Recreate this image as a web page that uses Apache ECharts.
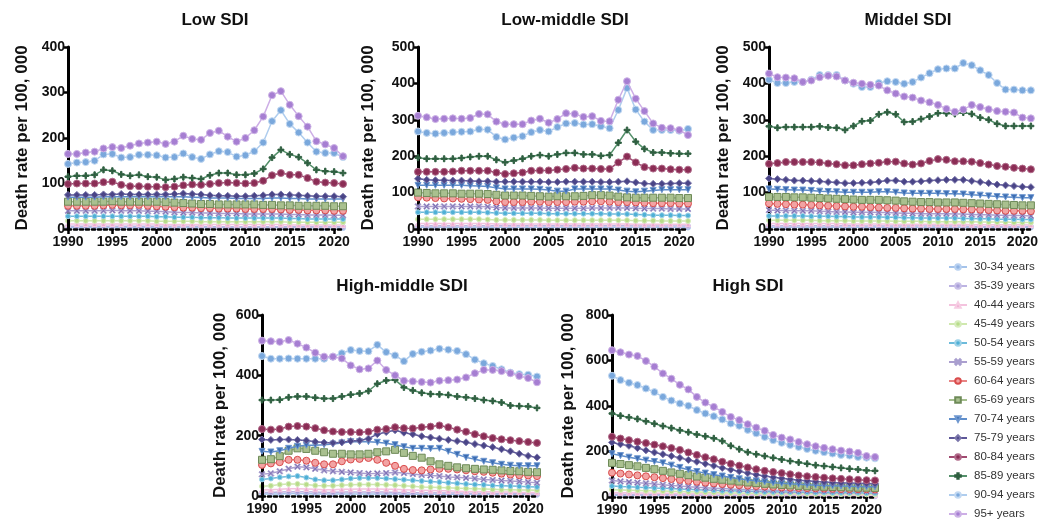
<!DOCTYPE html>
<html><head><meta charset="utf-8">
<script src="https://cdn.jsdelivr.net/npm/echarts@6/dist/echarts.min.js"></script>
<style>html,body{margin:0;padding:0;background:#fff}#c{width:1041px;height:524px}</style>
</head><body><div id="c"></div>
<script>
// ---------- DATA ----------
const years = ['1990','1991','1992','1993','1994','1995','1996','1997','1998','1999','2000','2001','2002','2003','2004','2005','2006','2007','2008','2009','2010','2011','2012','2013','2014','2015','2016','2017','2018','2019','2020','2021'];
const ageGroups = ['30-34 years','35-39 years','40-44 years','45-49 years','50-54 years','55-59 years','60-64 years','65-69 years','70-74 years','75-79 years','80-84 years','85-89 years','90-94 years','95+ years'];
const panelTitles = ['Low SDI','Low-middle SDI','Middel SDI','High-middle SDI','High SDI'];
const yAxisMax = [400, 500, 500, 600, 800];
const yAxisStep = [100, 100, 100, 200, 200];
const yAxisName = 'Death rate per 100, 000';

// rows follow ageGroups order
const lowSDI = [
 [3,3,3,3,3,3,3,3,3,3,3,3,3,3,3,3,3,3,3,3,3,3,3,3,3,3,2,2,2,2,2,2],
 [6,6,6,6,6,6,6,6,6,6,6,6,6,6,6,6,5,5,5,5,5,5,5,5,5,5,5,5,5,5,5,5],
 [11,11,11,11,11,11,11,11,11,11,11,10,10,10,10,10,10,10,10,10,10,10,10,10,10,9,9,9,9,9,9,9],
 [18,18,18,18,18,18,18,18,18,18,17,17,17,17,17,16,16,16,16,16,16,16,16,16,16,15,15,15,15,15,15,15],
 [28,28,28,28,28,28,28,28,28,28,27,27,26,26,26,25,25,25,24,24,24,24,24,24,24,23,23,22,22,22,22,22],
 [40,40,40,40,40,41,40,40,40,39,39,38,37,36,36,35,35,34,34,34,33,33,33,33,33,32,32,31,31,31,30,30],
 [51,51,51,51,52,53,52,52,53,51,50,49,48,47,47,46,46,45,45,45,44,44,44,44,43,42,42,41,41,41,40,40],
 [60,60,60,60,60,61,60,60,60,60,60,59,58,57,56,55,55,54,54,54,54,54,53,53,52,52,51,51,51,51,50,50],
 [70,70,70,70,71,71,71,71,71,71,71,71,71,71,70,69,68,68,68,67,67,67,67,68,68,67,67,66,66,66,66,66],
 [75,75,75,75,76,76,77,76,76,76,76,76,77,78,77,76,74,73,73,72,72,73,74,76,76,75,74,73,72,72,72,71],
 [99,100,100,100,103,104,97,94,94,93,93,92,93,96,98,97,99,101,102,101,100,101,106,118,123,119,119,112,104,102,101,99],
 [115,117,117,119,130,128,120,117,119,115,114,108,110,114,112,110,118,123,123,119,119,122,132,157,174,164,158,145,130,127,126,123],
 [143,146,147,150,164,165,157,158,163,163,162,157,158,166,158,154,164,171,169,159,162,171,190,237,261,231,212,190,170,167,167,158],
 [165,165,168,170,177,180,178,183,188,190,192,187,192,205,198,196,211,216,203,192,200,217,247,294,303,273,248,225,193,186,178,160]
];
const lowMiddleSDI = [
 [5,5,5,5,5,5,5,5,5,5,5,5,5,5,5,5,5,5,5,5,5,5,5,5,4,4,4,4,4,4,4,4],
 [9,9,9,9,9,9,9,9,9,9,9,9,9,9,9,9,9,9,9,9,9,9,9,9,9,8,8,8,8,8,8,8],
 [15,15,15,15,15,15,15,15,15,14,14,14,14,14,14,14,14,14,14,14,14,14,14,14,14,13,13,13,13,13,13,13],
 [27,27,27,27,27,27,27,27,26,25,25,25,25,25,25,24,24,24,24,24,24,24,24,24,24,23,23,23,22,22,22,22],
 [46,46,46,46,46,46,46,46,45,44,43,43,43,43,43,42,42,42,42,42,42,42,41,41,41,40,39,38,38,38,37,37],
 [62,62,62,62,62,62,62,62,61,59,58,58,58,58,58,57,57,57,57,57,58,58,58,58,58,57,56,56,56,55,55,55],
 [87,86,85,84,84,83,82,81,80,76,74,74,74,75,75,74,74,74,75,75,76,76,75,74,74,73,72,71,71,71,70,70],
 [100,99,98,98,98,97,97,97,96,94,92,92,92,91,90,89,90,90,90,91,93,93,92,89,87,86,86,86,86,86,85,85],
 [120,120,120,120,120,120,119,118,117,113,110,110,110,110,109,107,104,104,110,110,110,110,110,107,104,102,104,106,108,108,108,108],
 [138,135,134,134,133,133,132,131,131,130,130,130,130,130,130,129,129,130,130,130,130,129,129,130,131,128,125,124,124,125,126,126],
 [157,157,157,157,158,160,160,160,160,155,151,153,155,160,161,161,163,165,168,166,166,165,165,183,199,183,170,166,166,164,163,163],
 [196,193,193,193,193,195,198,200,200,190,183,188,193,200,203,200,205,209,209,205,205,201,203,237,272,240,220,210,210,208,207,207],
 [268,264,262,264,266,267,268,274,273,253,246,251,255,266,272,268,280,290,291,287,288,282,277,327,387,328,295,272,272,272,270,275],
 [311,307,302,303,304,303,305,316,315,295,288,288,288,298,303,292,302,318,316,308,310,297,296,355,406,358,324,290,278,277,272,258]
];
const middleSDI = [
 [5,5,5,5,5,5,5,5,5,5,5,5,5,5,5,5,4,4,4,4,4,4,4,4,4,4,4,4,4,4,4,4],
 [9,9,9,9,9,9,9,9,9,9,9,8,8,8,8,8,8,8,8,8,8,8,8,8,7,7,7,7,7,7,7,7],
 [15,15,15,15,15,15,15,15,15,14,14,14,14,14,14,13,13,13,13,13,13,13,13,13,12,12,12,12,12,12,12,11],
 [24,24,24,24,24,24,23,23,23,23,22,22,22,22,22,21,21,21,21,20,20,20,20,20,20,19,19,19,19,18,18,18],
 [36,36,36,36,36,35,35,35,34,34,33,33,33,33,32,32,31,31,30,30,30,30,30,29,29,28,28,27,27,27,26,26],
 [52,51,51,50,50,50,49,48,47,47,46,46,46,45,45,44,43,43,42,42,42,42,41,41,40,39,39,38,38,37,37,36],
 [70,69,68,67,67,66,65,64,63,62,61,61,60,59,58,58,57,56,56,55,55,55,55,54,54,53,52,51,50,50,50,49],
 [88,88,88,87,87,86,85,84,83,82,81,80,80,80,79,78,76,75,74,74,73,73,73,72,71,70,69,68,67,66,65,65],
 [110,109,108,107,107,106,104,103,102,101,101,101,101,102,102,101,99,98,98,98,98,97,97,96,94,93,91,89,88,87,86,86],
 [139,137,135,133,133,132,131,129,128,126,126,127,128,130,133,133,130,130,131,133,134,135,135,135,132,129,126,122,120,118,116,115],
 [179,181,184,184,184,184,183,180,178,175,175,178,180,182,185,185,180,177,180,187,192,190,186,186,185,181,177,173,171,168,166,164],
 [282,278,280,280,280,280,282,279,278,272,283,296,298,315,321,315,294,295,302,309,318,318,316,320,316,306,300,289,283,283,283,283],
 [410,401,401,404,404,410,423,423,423,408,399,390,390,401,406,404,399,404,416,428,439,441,441,456,450,436,423,401,383,383,381,381],
 [427,417,416,414,404,408,417,421,419,408,402,399,396,394,381,372,364,361,353,348,341,330,322,328,341,335,329,324,322,320,306,304]
];
const highMiddleSDI = [
 [7,7,7,8,8,8,7,7,7,7,7,7,7,7,7,7,6,6,6,6,6,6,5,5,5,5,5,5,4,4,4,4],
 [12,12,13,14,14,14,13,12,12,13,13,13,13,13,13,12,12,11,11,11,10,10,10,9,9,9,8,8,8,8,7,7],
 [20,21,22,24,24,23,22,21,21,22,22,23,23,23,22,22,21,20,19,18,17,17,16,15,15,14,14,13,13,12,12,12],
 [32,34,38,40,40,38,35,34,34,36,37,38,38,38,37,36,34,32,30,29,28,27,26,25,24,23,22,21,21,20,20,19],
 [55,58,62,65,66,61,55,52,52,55,58,60,60,60,58,56,54,52,50,48,46,44,42,40,38,37,35,34,33,32,31,30],
 [72,75,82,90,97,95,90,85,82,80,78,76,74,75,76,78,76,73,70,68,66,63,62,60,58,55,53,51,50,48,46,44],
 [103,108,112,120,120,117,110,105,105,115,121,123,126,120,110,100,90,86,85,88,90,90,88,85,82,80,77,74,71,69,68,66],
 [120,122,132,150,158,156,150,145,140,140,138,138,140,145,148,153,143,133,127,115,105,100,95,92,90,88,87,85,83,82,80,79],
 [148,146,150,158,165,168,168,170,172,176,180,180,180,178,175,170,163,158,158,157,158,148,138,128,122,115,110,105,102,100,100,100],
 [187,186,187,187,186,184,180,177,176,178,182,184,190,205,212,218,210,205,198,194,190,186,182,178,172,167,162,155,148,140,133,128],
 [222,220,222,230,232,230,225,218,214,212,212,211,213,220,222,228,225,224,228,230,234,228,220,213,205,198,192,188,185,182,179,176],
 [318,318,319,327,330,330,326,323,323,330,336,340,348,372,383,385,360,350,342,338,337,335,330,327,323,318,315,310,300,298,297,292],
 [464,455,455,456,455,455,455,455,462,473,484,481,480,501,477,466,447,471,478,482,488,485,481,470,452,440,431,420,409,404,402,396],
 [515,513,511,517,505,492,475,462,462,456,433,420,423,449,418,400,382,380,378,376,382,384,386,393,407,418,418,414,407,398,391,377]
];
const highSDI = [
 [7,7,7,7,6,6,6,6,5,5,5,5,5,4,4,4,4,4,4,4,4,3,3,3,3,3,3,3,3,3,3,3],
 [12,12,11,11,11,10,10,10,9,9,9,8,8,8,7,7,7,7,6,6,6,6,6,6,5,5,5,5,5,5,5,5],
 [20,19,19,18,18,17,17,16,15,15,14,14,13,13,12,12,11,11,11,10,10,10,10,9,9,9,9,8,8,8,8,8],
 [32,31,30,29,28,27,26,25,24,23,22,21,20,19,18,18,17,17,16,16,15,15,15,14,14,14,13,13,13,13,12,12],
 [48,46,45,43,42,40,39,37,35,34,32,31,30,28,27,26,25,24,23,23,22,22,21,21,20,20,19,19,19,19,18,18],
 [72,69,66,63,60,57,54,51,48,45,43,41,39,37,35,34,33,32,31,30,29,28,28,27,27,26,26,25,25,25,24,24],
 [107,103,99,95,91,87,83,79,75,71,67,63,60,57,54,52,50,48,46,44,42,41,40,39,38,37,36,35,35,34,34,33],
 [150,145,140,135,128,122,115,108,102,96,90,85,80,76,72,68,64,61,58,55,53,51,49,47,46,45,44,43,42,41,41,40],
 [190,182,175,168,162,156,150,140,130,120,112,105,98,92,86,80,75,71,67,63,60,58,56,54,52,50,49,48,47,46,45,45],
 [240,232,225,215,205,196,188,180,172,163,155,146,137,128,120,113,105,98,92,87,82,78,74,71,68,66,64,62,61,60,59,58],
 [265,257,250,243,237,230,223,215,207,196,185,175,166,155,146,138,130,122,115,110,105,100,95,91,88,85,82,80,78,76,74,73],
 [367,357,350,343,333,322,312,303,293,285,275,267,258,246,225,210,197,188,180,172,165,158,152,146,140,136,132,128,124,121,117,115],
 [533,514,502,492,477,461,440,424,411,401,382,367,355,341,323,313,295,280,264,250,238,229,220,211,203,197,191,185,182,176,173,170],
 [645,636,626,620,598,573,543,520,493,473,440,415,396,374,352,338,320,305,291,273,261,253,242,232,223,216,210,204,200,194,180,176]
];
const panelData = [lowSDI, lowMiddleSDI, middleSDI, highMiddleSDI, highSDI];

// ---------- STYLE ----------
const P_X = 'path://M0,1.5 L1.5,0 L5,3.5 L8.5,0 L10,1.5 L6.5,5 L10,8.5 L8.5,10 L5,6.5 L1.5,10 L0,8.5 L3.5,5 Z';
const P_PLUS = 'path://M3.8,0 H6.2 V3.8 H10 V6.2 H6.2 V10 H3.8 V6.2 H0 V3.8 H3.8 Z';
const P_TRI_DOWN = 'path://M0,0 L10,0 L5,9 Z';
const seriesStyle = [
 {line:'#a5c3ea', fill:'#8fb3e3', border:'#b9d1f0', symbol:'circle', size:5},
 {line:'#bdb4e2', fill:'#a99ed8', border:'#c9c1e8', symbol:'circle', size:5},
 {line:'#f4c3de', fill:'#efaad0', border:'#f6cde3', symbol:'triangle', size:5},
 {line:'#cfe8ae', fill:'#b8dc8a', border:'#d6ecbc', symbol:'circle', size:5},
 {line:'#6cbbdb', fill:'#4fb0d6', border:'#9fd2e8', symbol:'circle', size:5},
 {line:'#ab9fcf', fill:'#7466ad', border:'#a99fcf', symbol:P_X, size:6},
 {line:'#e88484', fill:'#f2a3a3', border:'#d94c4c', symbol:'circle', size:7},
 {line:'#a4be8e', fill:'#a9c08f', border:'#6e8a58', symbol:'rect', size:7},
 {line:'#5f8ecb', fill:'#3c6db3', border:'#6e97cf', symbol:P_TRI_DOWN, size:6},
 {line:'#5d5798', fill:'#4a4587', border:'#7a75aa', symbol:'diamond', size:7},
 {line:'#a04a70', fill:'#8b2d55', border:'#b06a8a', symbol:'circle', size:7},
 {line:'#54906a', fill:'#2f5f40', border:'#2f5f40', symbol:P_PLUS, size:6},
 {line:'#afcdee', fill:'#7aa8dc', border:'#c3d9f2', symbol:'circle', size:7},
 {line:'#cdaee6', fill:'#a67ed2', border:'#cdb3e6', symbol:'circle', size:7}
];
const grids = [
 {left:68, top:47, width:275, height:182, titleX:210, titleY:7, nameGap:37},
 {left:418, top:47, width:270, height:182, titleX:560, titleY:7, nameGap:41},
 {left:769, top:47, width:264, height:182, titleX:903, titleY:7, nameGap:37},
 {left:262, top:315, width:275, height:181, titleX:397, titleY:273, nameGap:33},
 {left:612, top:315, width:263, height:182, titleX:743, titleY:273, nameGap:35}
];
const FONT = '"Liberation Sans", Arial, sans-serif';

const option = {
 animation:false,
 backgroundColor:'#ffffff',
 title: grids.map((g,i)=>({text:panelTitles[i], left:g.titleX, top:g.titleY, textAlign:'center',
   textStyle:{fontFamily:FONT, fontWeight:'bold', fontSize:17, color:'#111'}})),
 legend:{orient:'vertical', left:948, top:261, padding:0, itemWidth:18, itemHeight:7, itemGap:7,
   data:ageGroups, textStyle:{fontFamily:FONT, fontSize:11.5, color:'#333', lineHeight:12, padding:[0,0,0,2]}},
 grid: grids.map(g=>({left:g.left, top:g.top, width:g.width, height:g.height, containLabel:false})),
 xAxis: grids.map((g,i)=>({type:'category', gridIndex:i, data:years, boundaryGap:false,
   axisLine:{lineStyle:{color:'#000', width:2.5, type:[3,3]}},
   axisTick:{interval:4, length:5, lineStyle:{color:'#000', width:2.5}},
   axisLabel:{interval:4, margin:6, fontFamily:FONT, fontWeight:'bold', fontSize:14, color:'#111'},
   splitLine:{show:false}, z:5})),
 yAxis: grids.map((g,i)=>({type:'value', gridIndex:i, min:0, max:yAxisMax[i], interval:yAxisStep[i],
   name:yAxisName, nameLocation:'middle', nameGap:g.nameGap,
   nameTextStyle:{fontFamily:FONT, fontWeight:'bold', fontSize:17, color:'#111'},
   axisLine:{show:true, lineStyle:{color:'#000', width:3}},
   axisTick:{show:true, length:5, lineStyle:{color:'#000', width:2.5}},
   axisLabel:{margin:3, fontFamily:FONT, fontWeight:'bold', fontSize:14, color:'#111'},
   splitLine:{show:false}, z:6})),
 series: []
};
panelData.forEach((rows,p)=>{
 rows.forEach((vals,k)=>{
  const s = seriesStyle[k];
  option.series.push({type:'line', name:ageGroups[k], xAxisIndex:p, yAxisIndex:p, data:vals,
   symbol:s.symbol, symbolSize:s.size, showAllSymbol:true,
   lineStyle:{color:s.line, width:1.5},
   itemStyle:{color:s.fill, borderColor:s.border, borderWidth:1},
   emphasis:{disabled:true}, z:2+k});
 });
});
const chart = echarts.init(document.getElementById('c'), null, {renderer:'canvas'});
chart.setOption(option);
</script></body></html>
